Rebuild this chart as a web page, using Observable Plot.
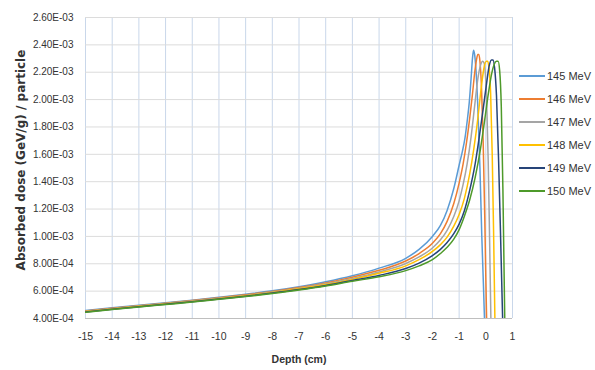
<!DOCTYPE html>
<html>
<head>
<meta charset="utf-8">
<script src="https://cdn.jsdelivr.net/npm/d3@7"></script>
<script src="https://cdn.jsdelivr.net/npm/@observablehq/plot@0.6"></script>
<style>
  html, body { margin: 0; padding: 0; background: #fff; }
  #wrap { position: relative; width: 595px; height: 370px; }
  #legend { position: absolute; left: 519px; top: 64px; font-family: "Liberation Sans", Arial, sans-serif; font-size: 11px; color: #333; }
  #legend .item { display: flex; align-items: center; height: 23px; }
  #legend .sw { width: 26px; height: 2px; margin-right: 2px; }
</style>
</head>
<body>
<div id="wrap"><div id="chart"></div><div id="legend"></div></div>
<script>
const energies = ["145 MeV", "146 MeV", "147 MeV", "148 MeV", "149 MeV", "150 MeV"];
const colors = ["#5B9BD5", "#ED7D31", "#A5A5A5", "#FFC000", "#264478", "#4E9A2A"];
const xTicks = [-15,-14,-13,-12,-11,-10,-9,-8,-7,-6,-5,-4,-3,-2,-1,0,1];
const yTicks = [4e-4,6e-4,8e-4,1.0e-3,1.2e-3,1.4e-3,1.6e-3,1.8e-3,2.0e-3,2.2e-3,2.4e-3,2.6e-3];

// depth (cm) and dose (×1e-4 GeV/g per particle)
const depth145 = [-15,-14,-13,-12,-11,-10,-9,-8,-7,-6,-5,-4,-3,-2.5,-2,-1.7,-1.45,-1.2,-1.0,-0.88,-0.78,-0.7,-0.62,-0.55,-0.5,-0.46,-0.42,-0.37,-0.3,-0.22,-0.15,-0.09,-0.05];
const dose145  = [4.58,4.78,4.97,5.15,5.34,5.55,5.77,6.02,6.32,6.68,7.12,7.68,8.4,9.05,10.0,10.8,11.9,13.5,15.2,16.2,17.2,18.4,19.8,21.6,23.0,23.6,23.3,22.2,19.5,15.0,10.0,6.5,4.0];
const depth146 = [-15,-14,-13,-12,-11,-10,-9,-8,-7,-6,-5,-4,-3,-2.5,-2,-1.7,-1.45,-1.2,-1.0,-0.85,-0.72,-0.6,-0.5,-0.42,-0.35,-0.3,-0.26,-0.22,-0.16,-0.1,-0.04,0.0,0.03];
const dose146  = [4.55,4.75,4.94,5.12,5.31,5.51,5.73,5.97,6.26,6.6,7.02,7.52,8.2,8.75,9.5,10.2,11.1,12.4,13.9,15.3,16.9,18.7,20.4,21.9,22.9,23.3,23.3,22.8,20.8,17.0,11.5,7.0,4.0];
const depth147 = [-15,-14,-13,-12,-11,-10,-9,-8,-7,-6,-5,-4,-3,-2.5,-2,-1.7,-1.45,-1.2,-1.0,-0.85,-0.7,-0.55,-0.42,-0.3,-0.2,-0.12,-0.07,-0.03,0.03,0.09,0.14,0.19];
const dose147  = [4.52,4.72,4.91,5.09,5.28,5.48,5.69,5.93,6.21,6.54,6.93,7.4,8.02,8.5,9.15,9.75,10.45,11.45,12.6,13.8,15.3,17.3,19.5,21.5,22.5,22.8,22.7,22.2,20.0,15.5,10.0,4.0];
const depth148 = [-15,-14,-13,-12,-11,-10,-9,-8,-7,-6,-5,-4,-3,-2.5,-2,-1.7,-1.45,-1.2,-1.0,-0.8,-0.6,-0.45,-0.3,-0.17,-0.06,0.02,0.07,0.12,0.18,0.24,0.29,0.34];
const dose148  = [4.5,4.7,4.89,5.07,5.25,5.45,5.66,5.9,6.17,6.48,6.86,7.3,7.85,8.3,8.9,9.4,9.95,10.75,11.6,12.8,14.6,16.4,18.6,20.9,22.4,22.8,22.8,22.3,20.5,16.0,10.5,4.0];
const depth149 = [-15,-14,-13,-12,-11,-10,-9,-8,-7,-6,-5,-4,-3,-2.5,-2,-1.7,-1.45,-1.2,-1.0,-0.8,-0.6,-0.4,-0.25,-0.1,0.03,0.13,0.21,0.27,0.33,0.4,0.48,0.56,0.63];
const dose149  = [4.47,4.67,4.86,5.04,5.22,5.42,5.63,5.86,6.12,6.42,6.78,7.15,7.65,8.05,8.6,9.05,9.55,10.2,10.9,11.9,13.4,15.3,17.2,19.3,21.2,22.5,22.9,22.9,22.3,20.3,15.5,9.5,4.0];
const depth150 = [-15,-14,-13,-12,-11,-10,-9,-8,-7,-6,-5,-4,-3,-2.5,-2,-1.7,-1.45,-1.2,-1.0,-0.8,-0.6,-0.4,-0.2,-0.05,0.1,0.22,0.32,0.4,0.46,0.52,0.58,0.64,0.71];
const dose150  = [4.45,4.65,4.84,5.02,5.2,5.4,5.6,5.83,6.08,6.37,6.72,7.05,7.5,7.85,8.3,8.75,9.2,9.8,10.5,11.5,12.7,14.3,16.4,18.4,20.5,21.9,22.6,22.8,22.8,22.1,19.5,13.5,4.0];

const depths = [depth145, depth146, depth147, depth148, depth149, depth150];
const doses = [dose145, dose146, dose147, dose148, dose149, dose150];

const rows = [];
energies.forEach((e, i) => {
  depths[i].forEach((d, j) => rows.push({energy: e, depth: d, dose: doses[i][j] * 1e-4}));
});

const fmtY = d => d.toExponential(2).toUpperCase().replace(/E([+-])(\d)$/, "E$10$2");
const font = "'Liberation Sans', Arial, sans-serif";

const chart = Plot.plot({
  width: 595,
  height: 370,
  marginLeft: 85,
  marginRight: 83,
  marginTop: 17,
  marginBottom: 52,
  style: {fontFamily: font, fontSize: "10px", color: "#333", background: "#fff"},
  x: {domain: [-15, 1], ticks: xTicks, label: null},
  y: {domain: [4e-4, 2.6e-3], ticks: yTicks, label: null},
  color: {domain: energies, range: colors},
  marks: [
    Plot.gridX(xTicks, {stroke: "#c9d7ea", strokeOpacity: 1, strokeWidth: 1}),
    Plot.gridY(yTicks, {stroke: "#dcdcdc", strokeOpacity: 1, strokeWidth: 1}),
    Plot.ruleY([4e-4], {stroke: "#bfbfbf", strokeWidth: 1.2}),
    Plot.line(rows, {x: "depth", y: "dose", z: "energy", stroke: "energy", strokeWidth: 1.5, curve: "monotone-x", clip: true}),
    Plot.axisX(xTicks, {tickSize: 0, tickPadding: 14, tickFormat: d => String(d), fontSize: 10.5}),
    Plot.axisY(yTicks, {tickSize: 0, tickPadding: 12, tickFormat: fmtY, fontSize: 10}),
    Plot.text(["Depth (cm)"], {frameAnchor: "bottom", dy: 44, fontWeight: "bold", fontSize: 10.5, fill: "#333"}),
    Plot.text(["Absorbed dose (GeV/g) / particle"], {frameAnchor: "left", dx: -64, dy: -8, rotate: -90, textAnchor: "middle", fontWeight: "bold", fontSize: 12, fill: "#333", fontFamily: "'DejaVu Sans', sans-serif"})
  ]
});
document.getElementById("chart").appendChild(chart);

const legend = document.getElementById("legend");
energies.forEach((e, i) => {
  const item = document.createElement("div");
  item.className = "item";
  const sw = document.createElement("div");
  sw.className = "sw";
  sw.style.background = colors[i];
  const t = document.createElement("span");
  t.textContent = e;
  item.appendChild(sw);
  item.appendChild(t);
  legend.appendChild(item);
});
</script>
</body>
</html>
